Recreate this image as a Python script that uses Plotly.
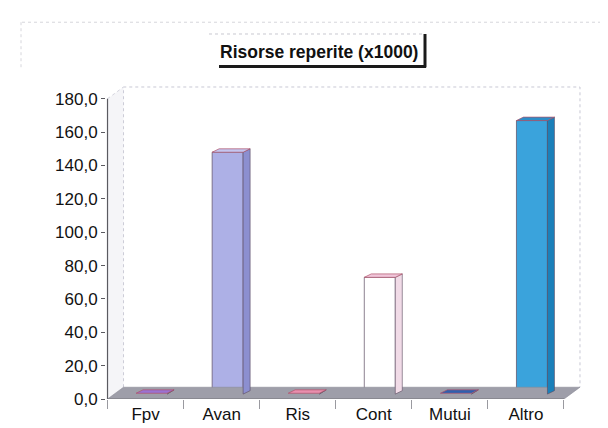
import plotly.graph_objects as go

# ---- data ----
categories = ["Fpv", "Avan", "Ris", "Cont", "Mutui", "Altro"]
values = [0.5, 145.0, 0.5, 70.0, 0.5, 164.0]
y_ticks = [0, 20, 40, 60, 80, 100, 120, 140, 160, 180]
title_text = "Risorse reperite (x1000)"

# ---- styling ----
front_colors = ["#9a72d2", "#adb0e6", "#e98fae", "#ffffff", "#2f5fae", "#3aa3dc"]
side_colors = ["#7a52b2", "#8c8fd0", "#c9708e", "#f1dbe7", "#204a90", "#1a80ba"]
top_colors = ["#9a72d2", "#c4c6f0", "#e98fae", "#f0c6da", "#2f5fae", "#2d8ec8"]
edge_color = "#5a4a60"
FONT = "Liberation Sans, Arial, sans-serif"

W, H = 608, 428
L, R, T, B = 98, 33, 78, 31
XR = [-0.52, 5.75]
YR = [0, 187.65]
pw, ph = W - L - R, H - T - B
ppx = pw / (XR[1] - XR[0])
ppy = ph / (YR[1] - YR[0])

# 3D offsets (pixels -> data units)
fdx, fdy = 16 / ppx, 12 / ppy          # floor depth
bdx, bdy = 6 / ppx, 5 / ppy            # bar plane shift
ddx, ddy = 7 / ppx, 3.5 / ppy          # bar depth
hw = 15.5 / ppx                        # bar half width

n = len(categories)
xs = list(range(n))
x0, x1 = -0.5, n - 0.5

fig = go.Figure()

def poly(px, py, fill, line="rgba(0,0,0,0)", lw=0, dash=None):
    fig.add_trace(go.Scatter(
        x=px + [px[0]], y=py + [py[0]], mode="lines", fill="toself",
        fillcolor=fill, line=dict(color=line, width=lw, dash=dash),
        hoverinfo="skip", showlegend=False))

def seg(px, py, color, lw=1, dash=None):
    fig.add_trace(go.Scatter(x=px, y=py, mode="lines",
                             line=dict(color=color, width=lw, dash=dash),
                             hoverinfo="skip", showlegend=False))

# back walls (dotted)
seg([x0 + fdx, x0 + fdx, x1 + fdx, x1 + fdx], [fdy, 180 + fdy, 180 + fdy, fdy], "#c8c8d4", 1, "dot")
seg([x0, x0 + fdx], [180, 180 + fdy], "#d0d0da", 1, "dot")
poly([x0, x0 + fdx, x0 + fdx, x0], [0, fdy, 180 + fdy, 180], "rgba(225,225,235,0.35)")

# floor
poly([x0, x1, x1 + fdx, x0 + fdx], [0, 0, fdy, fdy], "#9e9ea9", "#8a8a96", 0.6)

# bar side and top faces
for i, v in enumerate(values):
    fl = xs[i] - hw + bdx
    fr = xs[i] + hw + bdx
    b = bdy
    t = v + bdy
    poly([fr, fr + ddx, fr + ddx, fr], [b, b + ddy, t + ddy, t], side_colors[i], edge_color, 0.6)
    poly([fl, fr, fr + ddx, fl + ddx], [t, t, t + ddy, t + ddy], top_colors[i], "#b05068", 0.7)

# bar front faces
fig.add_trace(go.Bar(
    x=xs, y=values, base=bdy, width=2 * hw, offset=-hw + bdx,
    marker=dict(color=front_colors, line=dict(color=edge_color, width=0.7)),
    hoverinfo="skip", showlegend=False))

# axis lines
seg([x0, x0], [0, 180], "#5a5a60", 1.2)
seg([x0, x1], [0, 0], "#7a7a80", 1.2)

fig.update_layout(
    width=W, height=H,
    margin=dict(l=L, r=R, t=T, b=B, pad=0),
    paper_bgcolor="white", plot_bgcolor="white",
    separators=",.",
    font=dict(family=FONT, size=17, color="#111111"),
    showlegend=False,
    xaxis=dict(
        range=XR, showgrid=False, zeroline=False, showline=False,
        tickmode="array", tickvals=xs, ticktext=categories,
        ticks="", ticklabelstandoff=3,
        minor=dict(tickmode="array", tickvals=[x0 + k for k in range(n + 1)],
                   ticks="outside", ticklen=9, tickcolor="#9a9aa0", tickwidth=1),
        tickfont=dict(size=17, color="#111111"),
    ),
    yaxis=dict(
        range=YR, showgrid=False, zeroline=False, showline=False,
        tickmode="array", tickvals=y_ticks, tickformat=".1f",
        ticks="outside", ticklen=4, tickcolor="#5a5a60",
        tickfont=dict(size=17, color="#111111"),
    ),
)

def pxx(p):
    return (p - L) / pw

def pxy(p):
    return (H - B - p) / ph

# title box
fig.add_annotation(
    x=pxx(311), y=pxy(43), xref="paper", yref="paper",
    text="<b>" + title_text + "</b>", showarrow=False,
    font=dict(family=FONT, size=17.5, color="#111111"),
    xanchor="center", yanchor="middle",
)
fig.add_shape(type="line", xref="paper", yref="paper",
              x0=pxx(201), x1=pxx(417), y0=pxy(25), y1=pxy(25),
              line=dict(color="#c8c8d0", width=1, dash="dot"))
fig.add_shape(type="line", xref="paper", yref="paper",
              x0=pxx(417), x1=pxx(417), y0=pxy(25), y1=pxy(59),
              line=dict(color="#1a1a1a", width=3))
fig.add_shape(type="line", xref="paper", yref="paper",
              x0=pxx(211), x1=pxx(418), y0=pxy(58), y1=pxy(58),
              line=dict(color="#1a1a1a", width=3))

# outer faint border
fig.add_shape(type="line", xref="paper", yref="paper",
              x0=pxx(14), x1=pxx(600), y0=pxy(13), y1=pxy(13),
              line=dict(color="#d6d6dc", width=1, dash="dot"))
fig.add_shape(type="line", xref="paper", yref="paper",
              x0=pxx(13), x1=pxx(13), y0=pxy(13), y1=pxy(60),
              line=dict(color="#d6d6dc", width=1, dash="dot"))

fig.write_html("out.html")
